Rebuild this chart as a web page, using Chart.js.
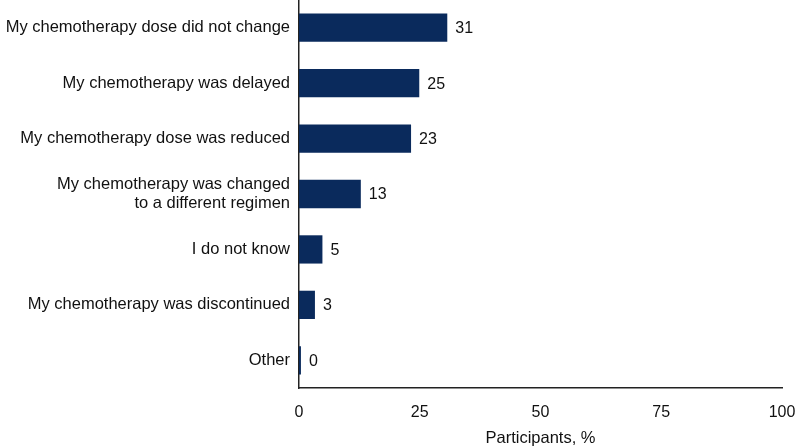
<!DOCTYPE html>
<html><head><meta charset="utf-8">
<script src="https://cdn.jsdelivr.net/npm/chart.js@4"></script>
<style>html,body{margin:0;padding:0;background:#fff}#wrap{width:796px;height:448px}</style>
</head><body><div id="wrap"><canvas id="c" width="796" height="448"></canvas></div>
<script>
const categories = [
  "My chemotherapy dose did not change",
  "My chemotherapy was delayed",
  "My chemotherapy dose was reduced",
  ["My chemotherapy was changed", "to a different regimen"],
  "I do not know",
  "My chemotherapy was discontinued",
  "Other"
];
const values = [30.7, 24.9, 23.2, 12.8, 4.85, 3.3, 0.4];
const valueLabels = ["31", "25", "23", "13", "5", "3", "0"];
const xTicks = [0, 25, 50, 75, 100];
const FONT = '"Liberation Sans", Arial, sans-serif';

const valuePlugin = {
  id: 'vals',
  afterDatasetsDraw(chart) {
    const ctx = chart.ctx;
    const meta = chart.getDatasetMeta(0);
    ctx.save();
    ctx.font = '16px ' + FONT;
    ctx.fillStyle = '#111';
    ctx.textAlign = 'left';
    ctx.textBaseline = 'middle';
    meta.data.forEach((bar, i) => {
      ctx.fillText(valueLabels[i], bar.x + 8, bar.y + 1);
    });
    ctx.restore();
  }
};

new Chart(document.getElementById('c'), {
  type: 'bar',
  data: {
    labels: categories,
    datasets: [{
      data: values,
      backgroundColor: '#0a2a5c',
      borderWidth: 0,
      barPercentage: 0.51,
      categoryPercentage: 1.0
    }]
  },
  options: {
    indexAxis: 'y',
    responsive: false,
    animation: false,
    layout: { padding: { top: 0, right: 0, bottom: 0, left: 0 } },
    plugins: { legend: { display: false }, tooltip: { enabled: false } },
    scales: {
      x: {
        min: 0, max: 100,
        afterBuildTicks(axis) { axis.ticks = xTicks.map(v => ({ value: v })); },
        grid: { display: false, drawOnChartArea: false, drawTicks: true, tickLength: 7, tickColor: '#222', tickWidth: 1.5 },
        border: { display: true, color: '#222', width: 1.5 },
        ticks: { color: '#111', font: { size: 16, family: FONT }, padding: 8, maxRotation: 0 },
        title: { display: true, text: 'Participants, %', color: '#111', font: { size: 16.5, family: FONT }, padding: { top: 6, bottom: 0 } },
        afterFit(axis) { axis.height = 60; axis.paddingRight = 14; }
      },
      y: {
        grid: { display: false, drawTicks: false },
        border: { display: true, color: '#222', width: 1.5 },
        ticks: { color: '#111', font: { size: 16.5, family: FONT }, padding: 9, autoSkip: false },
        afterFit(axis) { axis.width = 299; axis.paddingTop = 0; axis.paddingBottom = 0; }
      }
    }
  },
  plugins: [valuePlugin]
});
</script>
</body></html>
